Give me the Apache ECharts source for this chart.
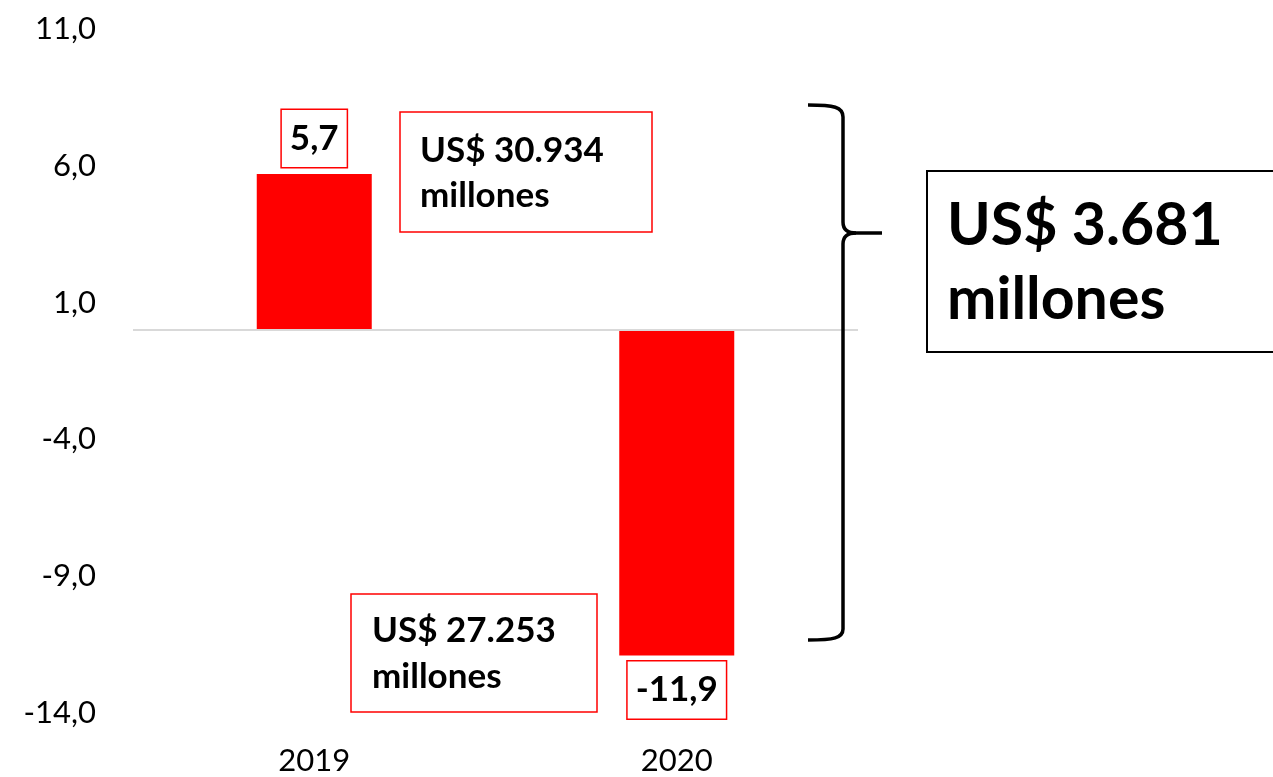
<!DOCTYPE html>
<html>
<head>
<meta charset="utf-8">
<script src="https://cdn.jsdelivr.net/npm/echarts@6/dist/echarts.min.js"></script>
<style>
html,body{margin:0;padding:0;background:#fff;}
#chart{width:1273px;height:777px;}
</style>
</head>
<body>
<div id="chart"></div>
<script>
var categories = ['2019', '2020'];
var values = [5.7, -11.9];
var yMin = -14, yMax = 11, yInterval = 5;
var noteTop = ['US$ 30.934', 'millones'];
var noteBottom = ['US$ 27.253', 'millones'];
var noteTotal = ['US$ 3.681', 'millones'];

var fmt = function (v) { return v.toFixed(1).replace('.', ','); };
var RED = '#ff0000';
var BOLD = 'Lato';
var AXF = 'Lato';

var chart = echarts.init(document.getElementById('chart'), null, {renderer: 'canvas'});

var seriesData = values.map(function (v) {
  return {
    value: v,
    label: {
      show: true,
      position: v >= 0 ? 'top' : 'bottom',
      distance: v >= 0 ? 7 : 6,
      formatter: function (p) { return fmt(p.value); },
      fontFamily: BOLD,
      fontWeight: 'bold',
      fontSize: 35,
      color: '#000',
      borderColor: RED,
      borderWidth: 1.5,
      padding: [11, 8, 11, 8],
      backgroundColor: '#fff'
    }
  };
});

function noteText(x, y, lines, size, gap) {
  return lines.map(function (t, i) {
    return {
      type: 'text', silent: true, z: 20,
      x: x, y: y + i * gap,
      style: {
        text: t, fill: '#000', font: 'bold ' + size + 'px ' + BOLD,
        textAlign: 'left', textVerticalAlign: 'middle'
      }
    };
  });
}

var graphics = [];
graphics.push({type: 'rect', silent: true, z: 10, shape: {x: 400, y: 112, width: 252, height: 120},
  style: {fill: '#fff', stroke: RED, lineWidth: 1.5}});
graphics = graphics.concat(noteText(420, 151, noteTop, 35, 45));
graphics.push({type: 'rect', silent: true, z: 10, shape: {x: 351, y: 594, width: 246, height: 118},
  style: {fill: '#fff', stroke: RED, lineWidth: 1.5}});
graphics = graphics.concat(noteText(372, 631, noteBottom, 35, 46));
graphics.push({type: 'rect', silent: true, z: 10, shape: {x: 927, y: 171, width: 360, height: 181},
  style: {fill: '#fff', stroke: '#000', lineWidth: 2}});
graphics = graphics.concat(noteText(947, 226, noteTotal, 59, 74));

var braceStyle = {fill: 'none', stroke: '#000', lineWidth: 3.5};
function bz(x1, y1, c1x, c1y, c2x, c2y, x2, y2) {
  return {type: 'bezierCurve', silent: true, z: 10,
    shape: {x1: x1, y1: y1, cpx1: c1x, cpy1: c1y, cpx2: c2x, cpy2: c2y, x2: x2, y2: y2},
    style: braceStyle};
}
function ln(x1, y1, x2, y2) {
  return {type: 'line', silent: true, z: 10, shape: {x1: x1, y1: y1, x2: x2, y2: y2}, style: braceStyle};
}
graphics.push(bz(808, 105, 834, 105, 843, 107, 843, 117));
graphics.push(ln(843, 117, 843, 222));
graphics.push(bz(843, 222, 843, 230, 848, 233, 856, 233));
graphics.push(ln(856, 233, 882, 233));
graphics.push(bz(856, 233, 848, 233, 843, 236, 843, 244));
graphics.push(ln(843, 244, 843, 629));
graphics.push(bz(843, 629, 843, 638, 834, 640, 808, 640));

chart.setOption({
  animation: false,
  backgroundColor: '#fff',
  grid: {left: 133, right: 415, top: 29, bottom: 64, containLabel: false},
  xAxis: {
    type: 'category',
    data: categories,
    axisLine: {show: false, onZero: false},
    axisTick: {show: false},
    axisLabel: {fontFamily: AXF, fontSize: 31, color: '#000', margin: 32}
  },
  yAxis: {
    type: 'value',
    min: yMin, max: yMax, interval: yInterval,
    axisLine: {show: false},
    axisTick: {show: false},
    splitLine: {show: false},
    axisLabel: {fontFamily: AXF, fontSize: 31, color: '#000', margin: 37, formatter: fmt}
  },
  series: [{
    type: 'bar',
    data: seriesData,
    barWidth: 115,
    itemStyle: {color: RED},
    markLine: {
      silent: true, symbol: 'none',
      label: {show: false},
      lineStyle: {color: '#d9d9d9', width: 2, type: 'solid'},
      data: [{yAxis: 0}]
    }
  }],
  graphic: graphics
});
</script>
</body>
</html>
